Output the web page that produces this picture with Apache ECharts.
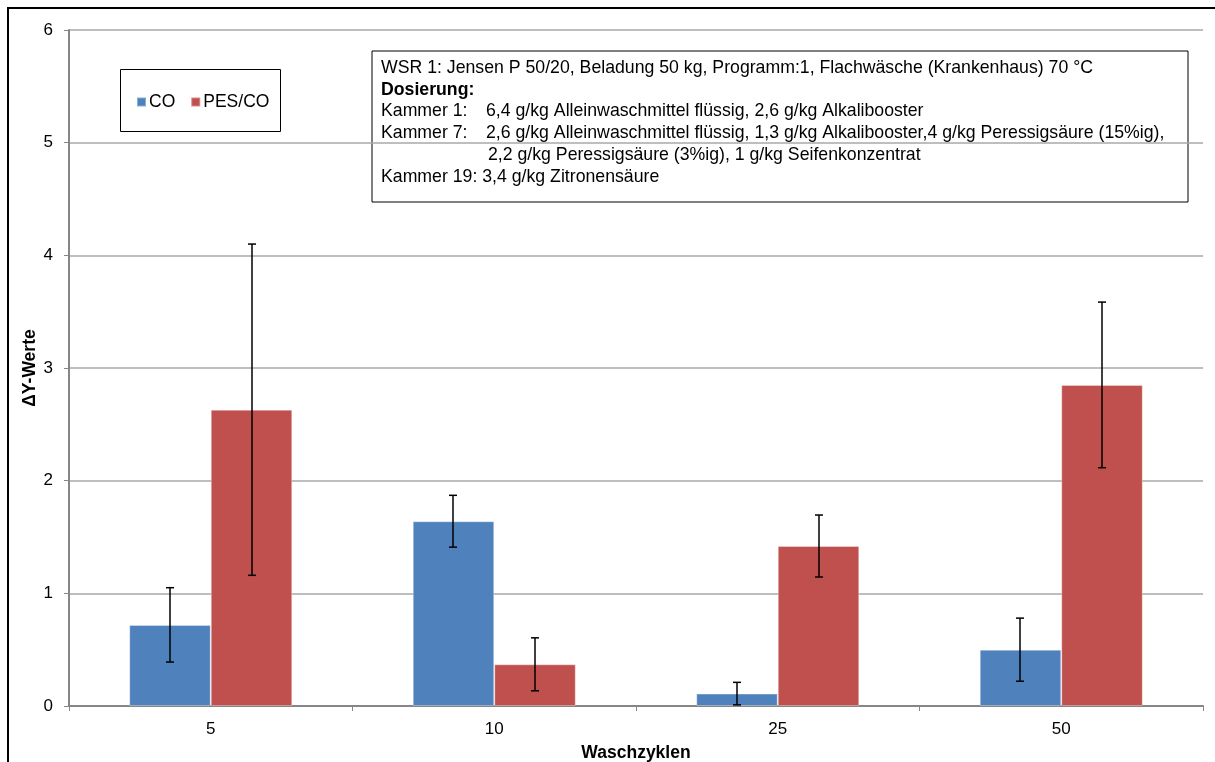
<!DOCTYPE html>
<html>
<head>
<meta charset="utf-8">
<script src="https://cdn.jsdelivr.net/npm/echarts@6/dist/echarts.min.js"></script>
<style>
  html, body { margin: 0; padding: 0; background: #ffffff; }
  #chart { width: 1215px; height: 762px; }
</style>
</head>
<body>
<div id="chart"></div>
<script>
// Wash cycles on the category axis
const cycles = ['5', '10', '25', '50'];
// Mean ΔY values per fabric
const coValues = [0.72, 1.64, 0.11, 0.50];
const pesValues = [2.63, 0.37, 1.42, 2.85];
// Standard deviations (symmetric error bars)
const coErrors = [0.33, 0.23, 0.10, 0.28];
const pesErrors = [1.47, 0.235, 0.275, 0.735];
const seriesNames = ['CO', 'PES/CO'];
const yMin = 0, yMax = 6, yStep = 1;

// Info box text
const infoTitle = 'WSR 1: Jensen P 50/20, Beladung 50 kg, Programm:1, Flachwäsche (Krankenhaus) 70 °C';
const infoHeading = 'Dosierung:';
const infoRows = [
  ['Kammer 1:', '6,4 g/kg Alleinwaschmittel flüssig, 2,6 g/kg Alkalibooster'],
  ['Kammer 7:', '2,6 g/kg Alleinwaschmittel flüssig, 1,3 g/kg Alkalibooster,4 g/kg Peressigsäure (15%ig),'],
  ['', '2,2 g/kg Peressigsäure (3%ig), 1 g/kg Seifenkonzentrat'],
  ['Kammer 19: 3,4 g/kg Zitronensäure', '']
];

const FONT = '"Liberation Sans", Arial, sans-serif';
const TXT = 17.5;               // body text size
const INFO_TXT = 17.7;          // info box text size
const CAT_GAP = 0.425;          // share of each category left empty
const colors = ['#4F81BD', '#C0504D'];

const chart = echarts.init(document.getElementById('chart'), null, { renderer: 'canvas' });

// Error bars drawn as I-beams centred on each bar of a two-bar group
function errorBars(name, values, errors, side) {
  return {
    type: 'custom',
    name: name,
    silent: true,
    z: 10,
    data: values.map((v, i) => [i, v - errors[i], v + errors[i]]),
    encode: { x: 0, y: [1, 2] },
    renderItem: function (params, api) {
      const i = api.value(0);
      const lo = api.coord([i, api.value(1)]);
      const hi = api.coord([i, api.value(2)]);
      const bw = api.size([1, 0])[0] * (1 - CAT_GAP) / 2;
      const x = Math.round(lo[0] + side * bw / 2);
      const cap = 4;
      const st = { stroke: '#000000', lineWidth: 1.5 };
      return {
        type: 'group',
        children: [
          { type: 'line', shape: { x1: x, y1: hi[1], x2: x, y2: lo[1] }, style: st },
          { type: 'line', shape: { x1: x - cap, y1: hi[1], x2: x + cap, y2: hi[1] }, style: st },
          { type: 'line', shape: { x1: x - cap, y1: lo[1], x2: x + cap, y2: lo[1] }, style: st }
        ]
      };
    }
  };
}

// Info box graphics
const infoX = 381, infoTop = 68, infoPitch = 21.8, valueX = 486, contX = 488;
function infoText(text, x, y, bold) {
  return { type: 'text', x: x, y: y,
    style: { text: text, font: (bold ? 'bold ' : '') + INFO_TXT + 'px ' + FONT,
      fill: '#000', verticalAlign: 'middle' } };
}
const infoChildren = [
  { type: 'rect', shape: { x: 372, y: 51, width: 816, height: 151 },
    style: { fill: '#ffffff', stroke: '#000000', lineWidth: 1 } },
  infoText(infoTitle, infoX, infoTop, false),
  infoText(infoHeading, infoX, infoTop + infoPitch, true)
];
infoRows.forEach((row, k) => {
  const y = infoTop + infoPitch * (k + 2);
  if (row[0]) infoChildren.push(infoText(row[0], infoX, y, false));
  if (row[1]) infoChildren.push(infoText(row[1], row[0] ? valueX : contX, y, false));
});

const option = {
  animation: false,
  backgroundColor: '#ffffff',
  textStyle: { fontFamily: FONT },
  grid: { left: 69, right: 12, top: 30, bottom: 56, containLabel: false, outerBoundsMode: 'none' },
  legend: {
    data: seriesNames,
    left: 136,
    top: 93,
    padding: 0,
    itemGap: 15,
    itemWidth: 9,
    itemHeight: 9,
    icon: 'rect',
    textStyle: { fontSize: TXT, color: '#000', fontFamily: FONT, padding: [0, 0, 0, -2] },
    selectedMode: false
  },
  xAxis: {
    type: 'category',
    data: cycles,
    name: 'Waschzyklen',
    nameLocation: 'middle',
    nameGap: 38,
    nameTextStyle: { fontSize: TXT, fontWeight: 'bold', color: '#000', fontFamily: FONT },
    axisLine: { lineStyle: { color: '#868686', width: 2 } },
    axisTick: { show: true, alignWithLabel: false, length: 5, inside: false,
      lineStyle: { color: '#868686', width: 1 } },
    axisLabel: { fontSize: 17, color: '#000', margin: 15, fontFamily: FONT },
    splitLine: { show: false }
  },
  yAxis: {
    type: 'value',
    min: yMin,
    max: yMax,
    interval: yStep,
    name: 'ΔY-Werte',
    nameLocation: 'middle',
    nameRotate: 90,
    nameGap: 30,
    nameMoveOverlap: false,
    nameTextStyle: { fontSize: TXT, fontWeight: 'bold', color: '#000', fontFamily: FONT },
    axisLine: { show: true, lineStyle: { color: '#868686', width: 2 } },
    axisTick: { show: true, length: 5, lineStyle: { color: '#868686', width: 1 } },
    axisLabel: { fontSize: 17, color: '#000', margin: 16, fontFamily: FONT },
    splitLine: { show: true, lineStyle: { color: '#a8a8a8', width: 1.5 } }
  },
  series: [
    {
      type: 'bar',
      name: seriesNames[0],
      data: coValues,
      barGap: '0%',
      barCategoryGap: (CAT_GAP * 100) + '%',
      itemStyle: { color: colors[0], borderColor: 'rgba(255,255,255,0.35)', borderWidth: 1 }
    },
    {
      type: 'bar',
      name: seriesNames[1],
      data: pesValues,
      barGap: '0%',
      barCategoryGap: (CAT_GAP * 100) + '%',
      itemStyle: { color: colors[1], borderColor: 'rgba(255,255,255,0.35)', borderWidth: 1 }
    },
    errorBars('CO Streuung', coValues, coErrors, -1),
    errorBars('PES/CO Streuung', pesValues, pesErrors, 1)
  ],
  graphic: [
    // outer chart frame
    { type: 'rect', z: 100, silent: true,
      shape: { x: 8, y: 8, width: 1215, height: 770 },
      style: { fill: 'none', stroke: '#000000', lineWidth: 2 } },
    // legend frame
    { type: 'rect', z: 1, silent: true,
      shape: { x: 120.5, y: 69.5, width: 160, height: 62 },
      style: { fill: '#ffffff', stroke: '#000000', lineWidth: 1 } },
    { type: 'group', z: 1, silent: true, children: infoChildren }
  ]
};

chart.setOption(option);
</script>
</body>
</html>
